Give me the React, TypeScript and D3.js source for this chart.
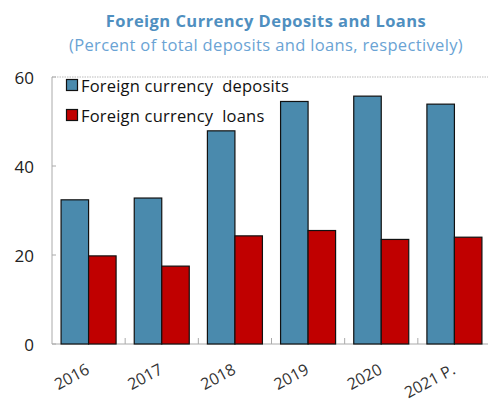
import React from "react";
import * as d3 from "d3";

const categories = ["2016", "2017", "2018", "2019", "2020", "2021 P."];
const deposits = [32.4, 32.8, 47.9, 54.5, 55.7, 53.9];
const loans = [19.8, 17.5, 24.3, 25.5, 23.5, 24.0];
const yTicks = [0, 20, 40, 60];
const seriesNames = ["Foreign currency  deposits", "Foreign currency  loans"];
const seriesColors = ["#4a8aad", "#c00000"];

const W = 488;
const H = 404;
const M = { left: 52, right: 488 - 491, top: 77, bottom: 404 - 344 };

export default function App() {
  const x = d3
    .scaleBand<string>()
    .domain(categories)
    .range([M.left, W - M.right])
    .paddingInner(0)
    .paddingOuter(0);
  const y = d3.scaleLinear().domain([0, 60]).range([H - M.bottom, M.top]);
  const inner = d3
    .scaleBand<number>()
    .domain([0, 1])
    .range([0, x.bandwidth()])
    .paddingInner(0)
    .paddingOuter(0.33);
  const series = [deposits, loans];
  const font = "'Open Sans', 'Noto Sans', sans-serif";
  const x0 = M.left;
  const x1 = W - M.right;
  const yb = y(0);
  const yt = y(60);

  return (
    <svg
      width={W}
      height={H}
      style={{ position: "absolute", left: 0, top: 0, background: "#fff" }}
      fontFamily={font}
    >
      <rect width={W} height={H} fill="#fff" />
      <text x={266} y={27} textAnchor="middle" fontSize={16.5} fontWeight={700} fill="#4f8fc0" letterSpacing={0.45}>
        Foreign Currency Deposits and Loans
      </text>
      <text x={266} y={51} textAnchor="middle" fontSize={16.5} fill="#6aa3d4" letterSpacing={0.35}>
        (Percent of total deposits and loans, respectively)
      </text>

      {/* frame */}
      <line x1={x0} x2={x1} y1={yt} y2={yt} stroke="#bbb" strokeDasharray="1.5 1" />
      <line x1={x0} x2={x0} y1={yt} y2={yb} stroke="#aaa" />
      <line x1={x0} x2={x1} y1={yb} y2={yb} stroke="#aaa" />

      {yTicks.map((t) => (
        <g key={t}>
          <line x1={x0} x2={x0 + 4} y1={y(t)} y2={y(t)} stroke="#aaa" />
          <text x={34} y={y(t) + 6.5} textAnchor="end" fontSize={17} fill="#222">
            {t}
          </text>
        </g>
      ))}

      {categories.slice(1).map((c) => (
        <line key={c} x1={x(c)!} x2={x(c)!} y1={yb} y2={yb - 6} stroke="#aaa" />
      ))}

      {categories.map((c, i) => (
        <g key={c}>
          {series.map((s, k) => (
            <rect
              key={k}
              x={x(c)! + inner(k)!}
              y={y(s[i])}
              width={inner.bandwidth()}
              height={yb - y(s[i])}
              fill={seriesColors[k]}
              stroke="#111"
              strokeWidth={1.2}
            />
          ))}
          <text
            transform={`translate(${x(c)! + x.bandwidth() / 2 + 2},${yb + 29}) rotate(-28)`}
            textAnchor="end"
            fontSize={16}
            fill="#333"
          >
            {c}
          </text>
        </g>
      ))}

      {seriesNames.map((n, k) => (
        <g key={n}>
          <rect x={66.5} y={79.5 + k * 30} width={11} height={11} fill={seriesColors[k]} stroke="#111" strokeWidth={1.2} />
          <text x={81} y={92 + k * 30} fontSize={16.5} fill="#111" letterSpacing={0.2} style={{ whiteSpace: "pre" }}>
            {n}
          </text>
        </g>
      ))}
    </svg>
  );
}
